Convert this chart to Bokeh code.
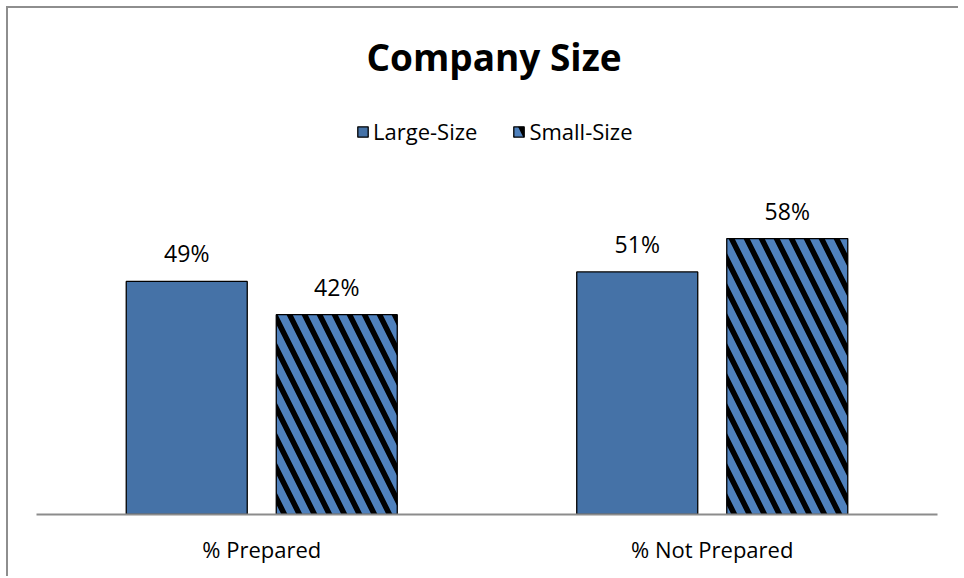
from bokeh.plotting import figure
from bokeh.models import FactorRange, Range1d, Label, Legend, LegendItem, ColumnDataSource
from bokeh.transform import dodge
from bokeh.core.properties import value
from bokeh.embed import file_html
from bokeh.resources import INLINE

# ---- data ----
categories = ["% Prepared", "% Not Prepared"]
series_names = ["Large-Size", "Small-Size"]
large_size = [0.49, 0.51]
small_size = [0.42, 0.58]
title_text = "Company Size"

FONT = "Open Sans"
PX_PER_UNIT = 333 / 0.7          # vertical scale of the value axis
FRAME_H = 506                      # frame spans from canvas top to the baseline
Y_END = FRAME_H / PX_PER_UNIT

src = ColumnDataSource(dict(
    cat=categories,
    large=large_size,
    small=small_size,
    large_lbl=[f"{v * 100:.0f}%" for v in large_size],
    small_lbl=[f"{v * 100:.0f}%" for v in small_size],
))

p = figure(
    x_range=FactorRange(factors=categories, range_padding=0),
    y_range=Range1d(0, Y_END),
    width=952, height=570,
    min_border_left=28, min_border_right=23, min_border_top=0, min_border_bottom=64,
    output_backend="svg", toolbar_location=None, y_axis_location=None,
)
p.styles = {"border-top": "2px solid #8e8e8e", "border-left": "2px solid #8e8e8e",
            "margin-left": "6px", "margin-top": "6px"}
p.outline_line_color = None
p.grid.visible = False
p.background_fill_color = "white"
p.border_fill_color = "white"

BW = 0.2686
OFF = 0.1665
r1 = p.vbar(x=dodge("cat", -OFF, range=p.x_range), top="large", width=BW, source=src,
            fill_color="#4572A7", line_color="black", line_width=1.3)
r2 = p.vbar(x=dodge("cat", OFF, range=p.x_range), top="small", width=BW, source=src,
            fill_color="#4F81BD", line_color="black", line_width=1.3,
            hatch_pattern="\\", hatch_color="black", hatch_scale=30, hatch_weight=5.5)

for col, lbl, off in (("large", "large_lbl", -OFF), ("small", "small_lbl", OFF)):
    p.text(x=dodge("cat", off, range=p.x_range), y=col, text=lbl, source=src,
           y_offset=-28, text_align="center", text_baseline="middle",
           text_font=value(FONT), text_font_size="23px", text_color="black")

# title
p.add_layout(Label(x=1.0, y=(FRAME_H - 48) / PX_PER_UNIT, x_offset=7, text=title_text,
                   text_font=FONT, text_font_size="37px", text_font_style="bold",
                   text_align="center", text_baseline="middle", text_color="black"))

legend = Legend(items=[LegendItem(label=series_names[0], renderers=[r1]),
                       LegendItem(label=series_names[1], renderers=[r2])],
                orientation="horizontal", location=(320, 368),
                glyph_width=13, glyph_height=13, label_standoff=4, spacing=35,
                padding=0, margin=0, border_line_color=None, background_fill_alpha=0,
                label_text_font=FONT, label_text_font_size="22px", label_text_color="black")
p.add_layout(legend, "center")

ax = p.xaxis[0]
ax.axis_line_color = "#8c8c8c"
ax.axis_line_width = 2
ax.major_tick_line_color = None
ax.minor_tick_line_color = None
ax.major_tick_out = 0
ax.major_tick_in = 0
ax.major_label_standoff = 19
ax.major_label_text_font = FONT
ax.major_label_text_font_size = "22px"
ax.major_label_text_color = "black"

open("out.html", "w").write(file_html(p, INLINE))
